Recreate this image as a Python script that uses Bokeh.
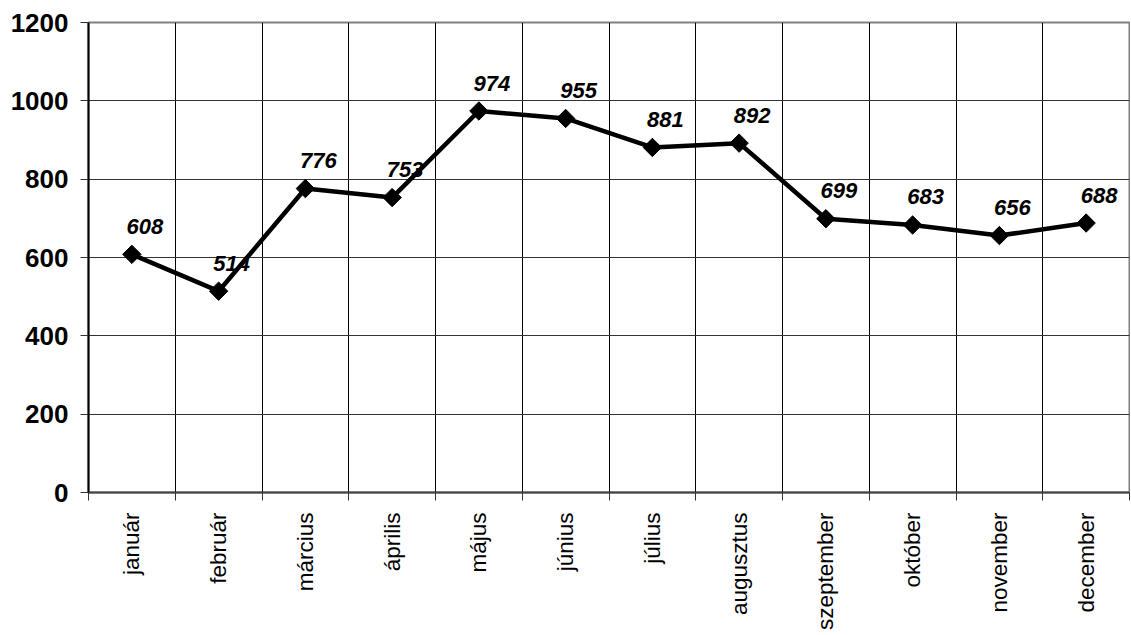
import math
from bokeh.plotting import figure
from bokeh.models import FixedTicker, Range1d, ColumnDataSource
from bokeh.core.properties import value
from bokeh.embed import file_html
from bokeh.resources import INLINE

months = ["január", "február", "március", "április", "május", "június",
          "július", "augusztus", "szeptember", "október", "november", "december"]
values = [608, 514, 776, 753, 974, 955, 881, 892, 699, 683, 656, 688]
y_ticks = [0, 200, 400, 600, 800, 1000, 1200]

xs = [i + 0.5 for i in range(len(months))]
src = ColumnDataSource(dict(x=xs, y=values, lbl=[str(v) for v in values]))

p = figure(frame_width=1041, frame_height=470, output_backend="svg", toolbar_location=None,
           x_range=Range1d(0, len(months)), y_range=Range1d(0, 1200),
           min_border_left=88, min_border_right=1, min_border_top=22, min_border_bottom=135)
p.background_fill_color = "white"
p.border_fill_color = "white"
p.outline_line_color = "#808080"
p.outline_line_width = 2

# x axis
p.xaxis.ticker = FixedTicker(ticks=xs, minor_ticks=list(range(len(months) + 1)))
p.xaxis.major_label_overrides = {x: m for x, m in zip(xs, months)}
p.xaxis.major_label_orientation = math.pi / 2
p.xaxis.major_tick_line_color = None
p.xaxis.major_tick_out = 0
p.xaxis.minor_tick_in = 0
p.xaxis.minor_tick_out = 8
p.xaxis.minor_tick_line_color = "#333333"
p.xaxis.axis_line_color = "#444444"
p.xaxis.axis_line_width = 2
p.xaxis.major_label_standoff = 12
p.xaxis.major_label_text_font = "Liberation Sans"
p.xaxis.major_label_text_font_size = "22.5px"
p.xaxis.major_label_text_color = "black"

# y axis
p.yaxis.ticker = FixedTicker(ticks=y_ticks)
p.yaxis.major_tick_in = 0
p.yaxis.major_tick_out = 8
p.yaxis.minor_tick_line_color = None
p.yaxis.major_tick_line_color = "#333333"
p.yaxis.axis_line_color = "black"
p.yaxis.axis_line_width = 2
p.yaxis.major_label_standoff = 12
p.yaxis.major_label_text_font = "Liberation Sans"
p.yaxis.major_label_text_font_size = "26px"
p.yaxis.major_label_text_font_style = "bold"
p.yaxis.major_label_text_color = "black"

# grids
p.xgrid.grid_line_color = None
p.xgrid.minor_grid_line_color = "black"
p.xgrid.minor_grid_line_width = 1
p.ygrid.grid_line_color = "#333333"
p.ygrid.grid_line_width = 1

p.line("x", "y", source=src, line_color="black", line_width=4.5)
p.scatter("x", "y", source=src, marker="square", angle=math.pi / 4, size=13,
          fill_color="black", line_color="black")
p.text("x", "y", text="lbl", source=src, x_offset=13, y_offset=-28,
       text_align="center", text_baseline="middle",
       text_font=value("Liberation Sans"), text_font_size="22px",
       text_font_style="bold italic", text_color="black")

open("out.html", "w").write(file_html(p, INLINE))
